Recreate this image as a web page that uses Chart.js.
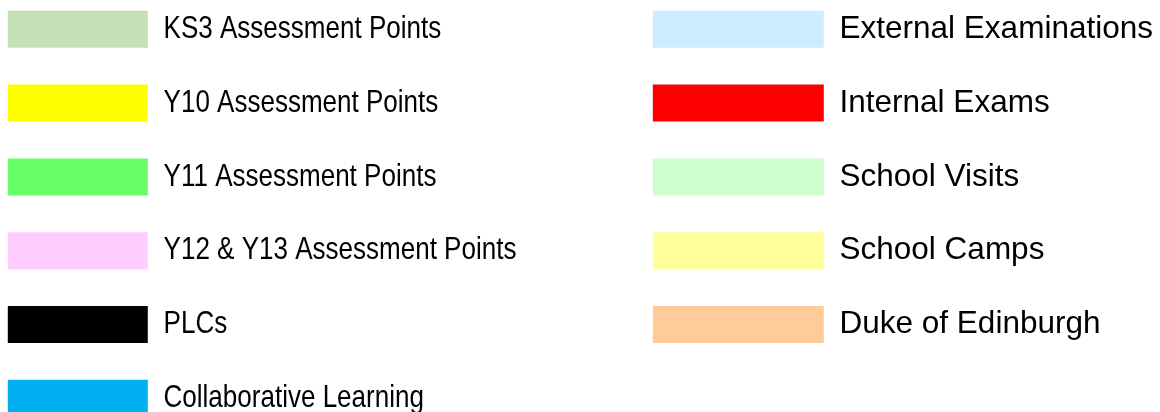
<!DOCTYPE html>
<html>
<head>
<meta charset="utf-8">
<script src="https://cdn.jsdelivr.net/npm/chart.js@4.4.0/dist/chart.umd.min.js"></script>
<style>
  html, body { margin: 0; padding: 0; background: #fff; overflow: hidden; width: 1160px; height: 412px; }
  .wrap { position: absolute; }
  #leftWrap { left: -28.8px; top: -25.8px; width: 1300px; height: 520px; }
  #rightWrap { left: 616.2px; top: -25.8px; width: 1200px; height: 520px; }
</style>
</head>
<body>
<div class="wrap" id="leftWrap"><canvas id="leftChart"></canvas></div>
<div class="wrap" id="rightWrap"><canvas id="rightChart"></canvas></div>
<script>
// legend entries, left column
var leftLabels = [
    'KS3 Assessment Points',
    'Y10 Assessment Points',
    'Y11 Assessment Points',
    'Y12 & Y13 Assessment Points',
    'PLCs',
    'Collaborative Learning'
]
var leftColors = ['#C5E0B4', '#FFFF00', '#66FF66', '#FFCCFF', '#000000', '#00B0F0']

// legend entries, right column
var rightLabels = [
    'External Examinations',
    'Internal Exams',
    'School Visits',
    'School Camps',
    'Duke of Edinburgh'
]
var rightColors = ['#CCECFF', '#FF0000', '#CCFFCC', '#FFFF99', '#FFCC99']

function makeDatasets(labels, colors) {
    var sets = []
    for (let i = 0; i < labels.length; i++) {
        sets.push({
            label: labels[i],
            data: [],
            backgroundColor: colors[i],
            borderColor: colors[i],
            borderWidth: 0
        })
    }
    return sets
}

// the left column uses a narrow face; no narrow font here, so squeeze the text
function squeezeText(ctx, ratio) {
    var orig = ctx.fillText.bind(ctx)
    ctx.fillText = function (text, x, y) {
        var w = ctx.measureText(text).width
        orig(text, x, y, w * ratio)
    }
}

function legendChart(id, labels, colors, boxW, squeeze) {
    var ctx = document.getElementById(id).getContext('2d');
    if (squeeze) {
        squeezeText(ctx, squeeze)
    }
    return new Chart(ctx, {
        type: 'bar',
        data: {
            labels: [],
            datasets: makeDatasets(labels, colors)
        },
        options: {
            responsive: true,
            maintainAspectRatio: false,
            animation: false,
            layout: { padding: 0 },
            scales: {
                x: { display: false },
                y: { display: false }
            },
            plugins: {
                tooltip: { enabled: false },
                legend: {
                    position: 'left',
                    align: 'start',
                    onClick: null,
                    labels: {
                        boxWidth: boxW,
                        boxHeight: 37,
                        padding: 36.8,
                        color: '#000',
                        font: { size: 31.5, family: '"Liberation Sans", Arial, sans-serif' }
                    }
                }
            }
        }
    });
}

function initCharts() {
    legendChart('leftChart', leftLabels, leftColors, 140, 0.826);
    legendChart('rightChart', rightLabels, rightColors, 171, 0);
}

document.addEventListener('DOMContentLoaded', initCharts);
</script>
</body>
</html>
